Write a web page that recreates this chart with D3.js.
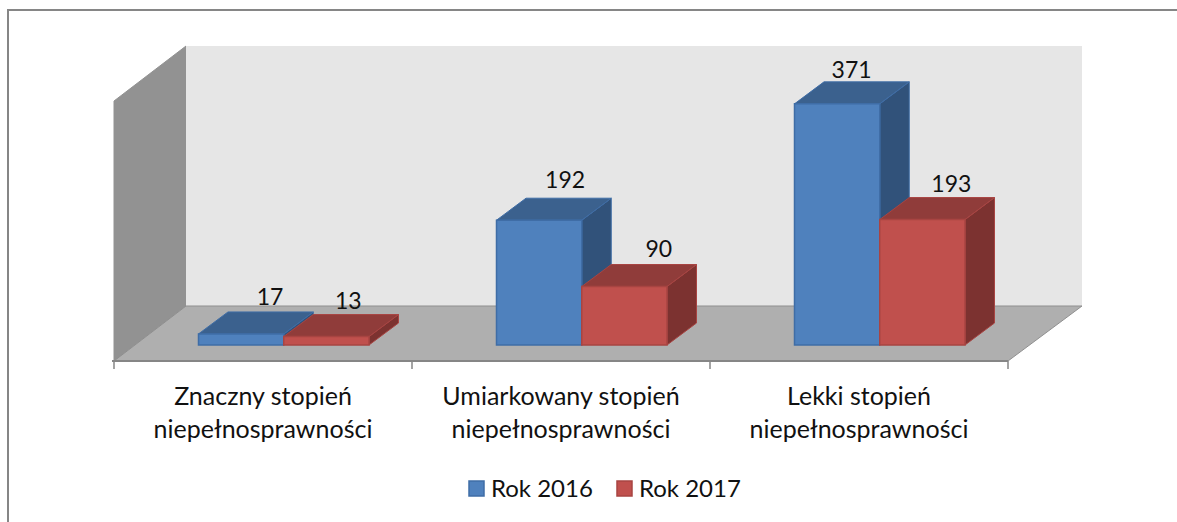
<!DOCTYPE html>
<html>
<head>
<meta charset="utf-8">
<script src="https://cdn.jsdelivr.net/npm/d3@7"></script>
<style>
  html, body { margin: 0; padding: 0; background: #fff; overflow: hidden; }
  text { font-family: Lato, "Open Sans", sans-serif; fill: #111; }
</style>
</head>
<body>
<div id="chart"></div>
<script>
const categories = ["Znaczny stopień niepełnosprawności", "Umiarkowany stopień niepełnosprawności", "Lekki stopień niepełnosprawności"];
const categoryLines = [["Znaczny stopień", "niepełnosprawności"], ["Umiarkowany stopień", "niepełnosprawności"], ["Lekki stopień", "niepełnosprawności"]];
const seriesNames = ["Rok 2016", "Rok 2017"];
const rok2016 = [17, 192, 371];
const rok2017 = [13, 90, 193];

const width = 1177, height = 522;
const svg = d3.select("#chart").append("svg")
  .attr("width", width)
  .attr("height", height)
  .style("display", "block");

// outer frame, right and bottom edges run off the picture
svg.append("rect")
  .attr("x", 8).attr("y", 10)
  .attr("width", 1180).attr("height", 530)
  .attr("fill", "#fff")
  .attr("stroke", "#868686")
  .attr("stroke-width", 2);

// 3d projection: depth of the box and of a single bar
const boxDx = 72, boxDxRight = 74, boxDy = -55;
const barDx = 29.5, barDy = -22;

const x0 = d3.scaleBand().domain(categories).range([114, 1008]);
const x1 = d3.scaleBand().domain(seriesNames).range([84.5, 255]);
const y = d3.scaleLinear().domain([0, 400]).range([345, 85]);

const frontY = 361;
const wallTop = 101;

function poly(points, fill, stroke) {
  return svg.append("polygon")
    .attr("points", points.map(p => p.join(",")).join(" "))
    .attr("fill", fill)
    .attr("stroke", stroke || "none");
}

// left wall, back wall and floor
poly([[114, frontY], [114 + boxDx, frontY + boxDy], [114 + boxDx, wallTop + boxDy], [114, wallTop]], "#929292", "#929292");
poly([[114 + boxDx, frontY + boxDy], [1008 + boxDxRight, frontY + boxDy], [1008 + boxDxRight, wallTop + boxDy], [114 + boxDx, wallTop + boxDy]], "#e6e6e6");
poly([[114, frontY], [1008, frontY], [1008 + boxDxRight, frontY + boxDy], [114 + boxDx, frontY + boxDy]], "#afafaf", "#8f8f8f");

// axis line and ticks
svg.append("line")
  .attr("x1", 112).attr("x2", 1008)
  .attr("y1", frontY).attr("y2", frontY)
  .attr("stroke", "#868686").attr("stroke-width", 2);

const ticks = categories.map(c => x0(c)).concat([x0.range()[1]]);
svg.selectAll(".tick")
  .data(ticks)
  .enter()
  .append("line")
  .attr("class", "tick")
  .attr("x1", d => d).attr("x2", d => d)
  .attr("y1", frontY).attr("y2", frontY + 8)
  .attr("stroke", "#868686")
  .attr("stroke-width", 1.5);

// bars
const colors = {
  "Rok 2016": { front: "#4f81bd", top: "#3b618e", side: "#31527a", line: "#3f6da6" },
  "Rok 2017": { front: "#c0504d", top: "#903c3a", side: "#7c3230", line: "#a84442" }
};

// hand placed labels, offset from the bar centre and the bar top
const labelNudge = {
  "Rok 2016": [[29, -7], [26, -10], [14.5, -4]],
  "Rok 2017": [[22, -6], [34.5, -8], [29, -6]]
};

const bars = [];
seriesNames.forEach((name, s) => {
  const values = s === 0 ? rok2016 : rok2017;
  values.forEach((v, i) => bars.push({ name: name, cat: categories[i], value: v, nudge: labelNudge[name][i] }));
});

function drawBar(d) {
  const c = colors[d.name];
  const left = x0(d.cat) + x1(d.name);
  const right = left + x1.bandwidth();
  const top = y(d.value);
  const base = y(0);
  poly([[right, base], [right + barDx, base + barDy], [right + barDx, top + barDy], [right, top]], c.side, c.line);
  poly([[left, top], [right, top], [right + barDx, top + barDy], [left + barDx, top + barDy]], c.top, c.line);
  poly([[left, base], [right, base], [right, top], [left, top]], c.front, c.line).attr("stroke-width", 1.5);
}
bars.forEach(drawBar);

// value labels
svg.selectAll(".value")
  .data(bars)
  .enter()
  .append("text")
  .attr("class", "value")
  .attr("x", d => x0(d.cat) + x1(d.name) + x1.bandwidth() / 2 + d.nudge[0])
  .attr("y", d => y(d.value) + barDy + d.nudge[1])
  .attr("text-anchor", "middle")
  .attr("font-size", 23)
  .text(d => d.value);

// category labels
categories.forEach((c, i) => {
  const t = svg.append("text")
    .attr("text-anchor", "middle")
    .attr("font-size", 25);
  categoryLines[i].forEach((line, k) => {
    t.append("tspan")
      .attr("x", x0(c) + x0.bandwidth() / 2)
      .attr("y", 405 + k * 33)
      .text(line);
  });
});

// legend
const legendX = d3.scaleOrdinal().domain(seriesNames).range([469, 617]);
const legend = svg.selectAll(".legend")
  .data(seriesNames)
  .enter()
  .append("g")
  .attr("class", "legend")
  .attr("transform", d => "translate(" + legendX(d) + ",481)");

legend.append("rect")
  .attr("width", 15).attr("height", 15)
  .attr("fill", d => colors[d].front)
  .attr("stroke", d => colors[d].line)
  .attr("stroke-width", 1.5);

legend.append("text")
  .attr("x", 22)
  .attr("y", 16)
  .attr("font-size", 24)
  .text(d => d);
</script>
</body>
</html>
